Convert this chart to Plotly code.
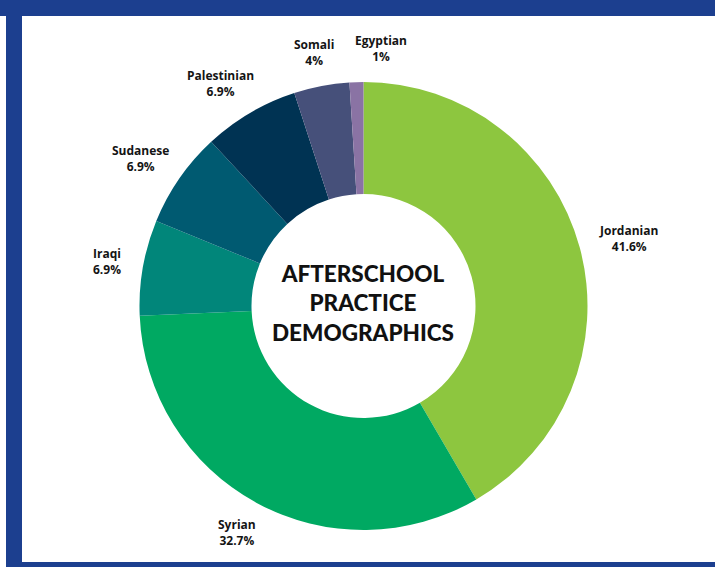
import math
import plotly.graph_objects as go

# ---- data ----
categories = ["Jordanian", "Syrian", "Iraqi", "Sudanese", "Palestinian", "Somali", "Egyptian"]
values = [41.6, 32.7, 6.9, 6.9, 6.9, 4.0, 1.0]
colors = ["#8DC63F", "#00A962", "#01867A", "#005A71", "#003353", "#46507A", "#8A73A4"]
center_title = ["AFTERSCHOOL", "PRACTICE", "DEMOGRAPHICS"]

W, H = 715, 567
CX, CY, R = 363.5, 306.0, 224.0
BORDER = "#1C3F8F"

fig = go.Figure(go.Pie(
    labels=categories,
    values=values,
    marker=dict(colors=colors, line=dict(width=0)),
    sort=False,
    direction="clockwise",
    rotation=0,
    hole=0.5,
    textinfo="none",
    showlegend=False,
    domain=dict(x=[(CX - R) / W, (CX + R) / W], y=[(H - CY - R) / H, (H - CY + R) / H]),
))

def fmt_pct(v, total):
    p = v / total * 100
    return f"{p:.3g}%"

total = sum(values)
label_font = dict(family="Open Sans", size=12, color="#141414", weight=700)

# compute label boxes outside each slice
boxes = []
cum = 0.0
gap = 19
for cat, v in zip(categories, values):
    mid = (cum + v / 2) / total * 2 * math.pi
    cum += v
    ux, uy = math.sin(mid), -math.cos(mid)  # screen coords (y down)
    pct = fmt_pct(v, total)
    w = max(len(cat), len(pct)) * 7.0
    h = 30
    px = CX + (R + gap) * ux + ux * w / 2
    py = CY + (R + gap) * uy + uy * h / 2
    boxes.append([cat, pct, px, py, w, h])

# simple de-overlap: push later label right if it collides with the previous one
for i in range(1, len(boxes)):
    a, b = boxes[i - 1], boxes[i]
    if abs(a[3] - b[3]) < (a[5] + b[5]) / 2:
        min_dx = (a[4] + b[4]) / 2 + 18
        if 0 <= b[2] - a[2] < min_dx:
            b[2] = a[2] + min_dx

annotations = []
for cat, pct, px, py, w, h in boxes:
    annotations.append(dict(
        x=px / W, y=1 - py / H, xref="paper", yref="paper",
        text=f"{cat}<br>{pct}", showarrow=False,
        xanchor="center", yanchor="middle", align="center",
        font=label_font,
    ))

annotations.append(dict(
    x=CX / W, y=1 - (CY - 3) / H, xref="paper", yref="paper",
    text="<br>".join(center_title), showarrow=False,
    xanchor="center", yanchor="middle", align="center",
    font=dict(family="Lato", size=22.5, color="#111111", weight=900),
))

shapes = [
    dict(type="rect", xref="paper", yref="paper", x0=0, x1=1, y0=1 - 16 / H, y1=1,
         fillcolor=BORDER, line=dict(width=0), layer="above"),
    dict(type="rect", xref="paper", yref="paper", x0=6 / W, x1=22 / W, y0=0, y1=1,
         fillcolor=BORDER, line=dict(width=0), layer="above"),
    dict(type="rect", xref="paper", yref="paper", x0=6 / W, x1=1, y0=0, y1=5 / H,
         fillcolor=BORDER, line=dict(width=0), layer="above"),
]

fig.update_layout(
    width=W, height=H,
    margin=dict(l=0, r=0, t=0, b=0),
    paper_bgcolor="white", plot_bgcolor="white",
    annotations=annotations, shapes=shapes,
)

fig.write_html("out.html")
